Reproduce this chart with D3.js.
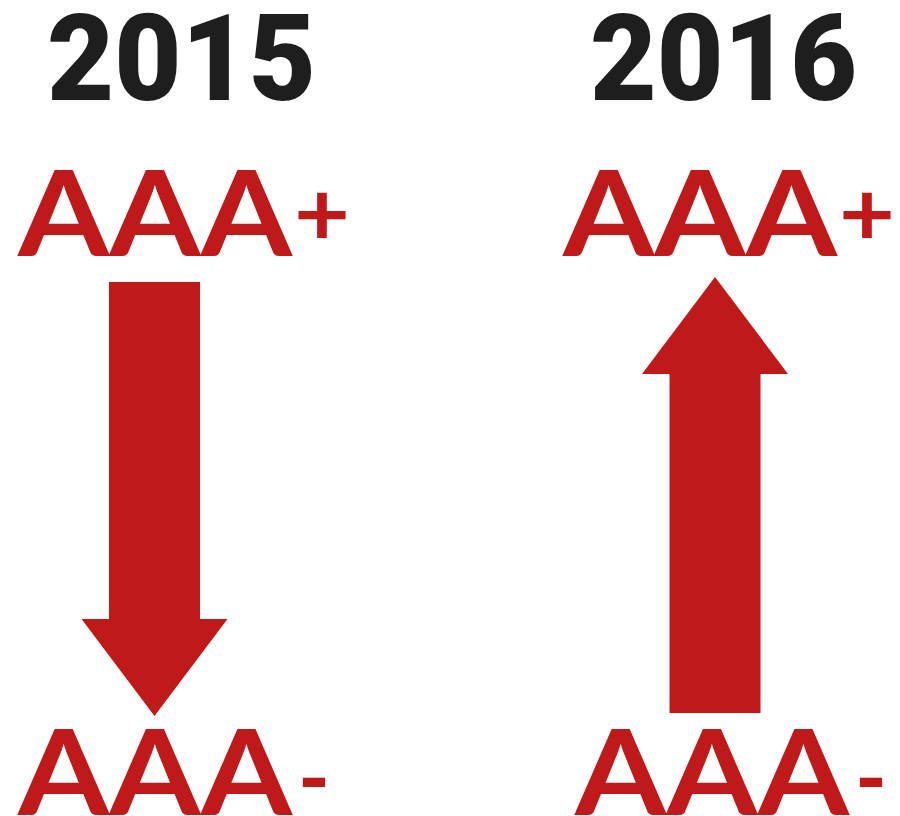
<!DOCTYPE html>
<html>
<head>
<meta charset="utf-8">
<style>
  body { margin: 0; background: #fff; }
  .year { font: 900 120px Roboto, sans-serif; fill: #1e1e1e; }
  .rating { font: 700 118px Lato, sans-serif; fill: #c0191a; }
  .sign { font: 700 90px Lato, sans-serif; fill: #c0191a; }
  .arrow { fill: #c0191a; }
</style>
<script src="https://d3js.org/d3.v7.min.js"></script>
</head>
<body>
<script>
// chart data
var years = ["2015", "2016"];
var ratingFrom = ["AAA+", "AAA-"];
var ratingTo = ["AAA-", "AAA+"];
var levels = ["AAA+", "AAA-"];

var width = 900, height = 816;

var svg = d3.select("body").append("svg")
    .attr("width", width)
    .attr("height", height);

// column centre of each arrow
var x = d3.scalePoint().domain(years).range([154.5, 715]);
// rating level -> label baseline
var yLabel = d3.scalePoint().domain(levels).range([256, 815]);
// rating level -> arrow end
var yArrow = d3.scalePoint().domain(levels).range([277, 716]);

// small per-column nudges, the source art is not symmetric
var yearDx = [27, 8.5];
var labelDx = [-136.5, -152];

var cols = years.map(function(y, i) {
  return { year: y, from: ratingFrom[i], to: ratingTo[i], i: i };
});

var g = svg.selectAll("g.col")
    .data(cols)
  .enter().append("g")
    .attr("class", "col");

// year heading
g.append("text")
    .attr("class", "year")
    .attr("x", function(d) { return x(d.year) + yearDx[d.i]; })
    .attr("y", 100)
    .attr("text-anchor", "middle")
    .attr("textLength", function(d) { return d.i ? 267 : 269; })
    .attr("lengthAdjust", "spacingAndGlyphs")
    .text(function(d) { return d.year; });

// rating labels, top and bottom
levels.forEach(function(lv) {
  g.append("text")
      .attr("class", "rating")
      .attr("x", function(d) { return x(d.year) + labelDx[d.i] + (lv === "AAA-" && d.i ? 12 : 0); })
      .attr("y", yLabel(lv))
      .attr("textLength", 274)
      .attr("lengthAdjust", "spacingAndGlyphs")
      .text(lv.slice(0, 3));

  g.append("text")
      .attr("class", "sign")
      .attr("x", function(d) {
        var start = x(d.year) + labelDx[d.i] + (lv === "AAA-" && d.i ? 12 : 0);
        return start + (lv === "AAA+" ? 276 : 280);
      })
      .attr("y", lv === "AAA+" ? 246 : 810)
      .attr("textLength", lv === "AAA+" ? 56 : 32)
      .attr("lengthAdjust", "spacingAndGlyphs")
      .text(lv.slice(3));
});

// arrows from the old rating to the new one
var shaftHalf = 45.5, headHalf = 73, headLen = 97;
g.append("path")
    .attr("class", "arrow")
    .attr("d", function(d) {
      var cx = x(d.year),
          y0 = yArrow(d.from) + (d.from === "AAA+" ? 5 : -3),
          y1 = yArrow(d.to),
          dir = y1 > y0 ? 1 : -1,
          yb = y1 - dir * headLen;
      return d3.line()([
        [cx - shaftHalf, y0], [cx + shaftHalf, y0],
        [cx + shaftHalf, yb], [cx + headHalf, yb],
        [cx, y1], [cx - headHalf, yb],
        [cx - shaftHalf, yb]
      ]) + "Z";
    });
</script>
</body>
</html>
